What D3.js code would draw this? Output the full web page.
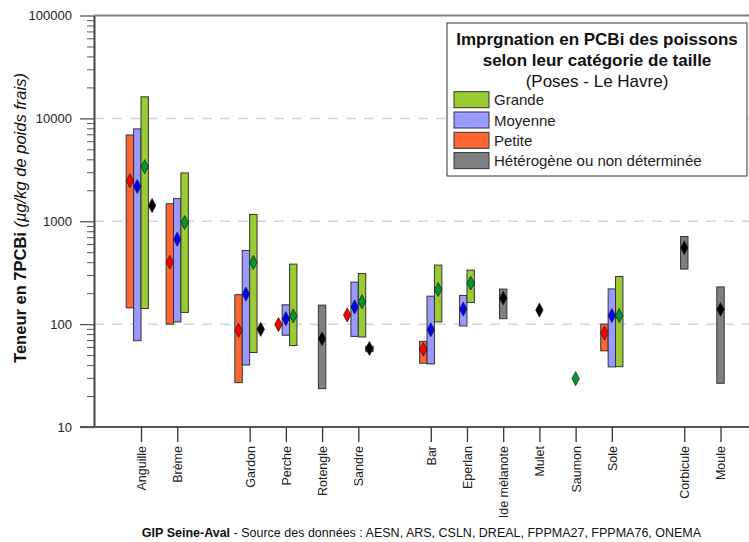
<!DOCTYPE html>
<html><head><meta charset="utf-8">
<script src="https://cdn.jsdelivr.net/npm/d3@7"></script>
<style>
body{margin:0;background:#fff;}
text{font-family:"Liberation Sans",Arial,sans-serif;}
</style></head>
<body><svg id="c" width="749" height="542"></svg>
<script>
// ---------- DATA ----------
const categories = ["Anguille","Brème","Gardon","Perche","Rotengle","Sandre","Bar","Eperlan","Ide mélanote","Mulet","Saumon","Sole","Corbicule","Moule"];
const groupStarts = ["Gardon","Bar","Corbicule"];
const seriesNames = ["Petite","Moyenne","Grande","Hétérogène ou non déterminée"];
// per category: [min, max, median]; null = absent
const petiteMin = [144, 100, 27, null, null, null, 41.7, null, null, null, null, 55, null, null];
const petiteMax = [6900, 1480, 193, null, null, null, 68, null, null, null, null, 100, null, null];
const petiteMed = [2480, 400, 87, 99, null, 123, 57, null, null, null, null, 82, null, null];
const moyenneMin = [69, 105, 40, 78, null, 76, 41, 96, null, null, null, 38.4, null, null];
const moyenneMax = [7900, 1660, 520, 154, null, 256, 187, 190, null, null, null, 220, null, null];
const moyenneMed = [2180, 670, 196, 113, null, 147, 88, 140, null, null, null, 121, null, null];
const grandeMin = [142, 130, 53, 62, null, 75, 105, 162, null, null, null, 38.6, null, null];
const grandeMax = [16200, 2950, 1165, 383, null, 310, 375, 335, null, null, null, 290, null, null];
const grandeMed = [3390, 970, 397, 120, null, 165, 217, 250, null, null, 29.5, 121, null, null];
const heteroMin = [null, null, null, null, 23.6, 54, null, null, 113, null, null, null, 343, 26.6];
const heteroMax = [null, null, null, null, 153, 61, null, null, 219, null, null, null, 711, 230];
const heteroMed = [1420, null, 89, null, 72, 58, null, null, 179, 137, null, null, 552, 139];
const yMajorTicks = [10, 100, 1000, 10000, 100000];
const gridValues = [100, 1000, 10000];

// ---------- STYLE ----------
const barFill = ["#ff6633", "#9999ff", "#99cc33", "#808080"];
const diamondFill = ["#ff0000", "#0000ff", "#009933", "#000000"];

const svg = d3.select("#c");
const L = 94, R = 749, T = 15.5, B = 427;

const y = d3.scaleLog().domain([10, 100000]).range([B, T]);

// x: point scale with one empty slot between groups
const slots = [];
let g = 0;
categories.forEach(c => { if (groupStarts.includes(c)) slots.push("gap" + (g++)); slots.push(c); });
const x = d3.scalePoint().domain(slots).range([141, 720.5]);

const series = [
  {min: petiteMin, max: petiteMax, med: petiteMed},
  {min: moyenneMin, max: moyenneMax, med: moyenneMed},
  {min: grandeMin, max: grandeMax, med: grandeMed},
  {min: heteroMin, max: heteroMax, med: heteroMed}
];

// gridlines
svg.append("g").selectAll("line").data(gridValues).join("line")
  .attr("x1", L).attr("x2", R).attr("y1", d => y(d)).attr("y2", d => y(d))
  .attr("stroke", "#d4d4d4").attr("stroke-width", 1.5).attr("stroke-dasharray", "10,8");

// top frame line
svg.append("line").attr("x1", L).attr("x2", R).attr("y1", T).attr("y2", T)
  .attr("stroke", "#808080").attr("stroke-width", 2);

// build marks
const slotW = 7.4;
const marks = [];
categories.forEach((c, i) => {
  const present = [];
  series.forEach((s, k) => { if (s.med[i] != null) present.push(k); });
  present.forEach((k, j) => {
    const s = series[k];
    marks.push({cat: c, k, off: (j - (present.length - 1) / 2) * slotW,
      min: s.min[i], max: s.max[i], med: s.med[i]});
  });
});

const plot = svg.append("g");
plot.selectAll("rect.bar").data(marks.filter(m => m.min != null)).join("rect")
  .attr("class", "bar")
  .attr("x", m => x(m.cat) + m.off - slotW / 2)
  .attr("width", slotW)
  .attr("y", m => y(m.max))
  .attr("height", m => y(m.min) - y(m.max))
  .attr("fill", m => barFill[m.k])
  .attr("stroke", "#333").attr("stroke-width", 1);

const dw = 3.7, dh = 7;
plot.selectAll("path.dia").data(marks).join("path")
  .attr("class", "dia")
  .attr("transform", m => `translate(${x(m.cat) + m.off},${y(m.med)})`)
  .attr("d", `M0,${-dh}L${dw},0L0,${dh}L${-dw},0Z`)
  .attr("fill", m => diamondFill[m.k])
  .attr("stroke", "#222").attr("stroke-width", 0.8);

// y axis
const yAxis = svg.append("g").attr("transform", `translate(${L},0)`)
  .call(d3.axisLeft(y).tickValues(yMajorTicks).tickFormat(d3.format("d")).tickSize(14).tickSizeOuter(0));
const minor = [];
for (let d = 10; d < 100000; d *= 10) for (let m = 2; m <= 9; m++) minor.push(d * m);
svg.append("g").attr("transform", `translate(${L},0)`)
  .call(d3.axisLeft(y).tickValues(minor).tickFormat("").tickSize(7).tickSizeOuter(0))
  .call(a => a.select(".domain").remove())
  .selectAll("line").attr("stroke", "#555");
yAxis.select(".domain").attr("stroke", "#444").attr("stroke-width", 2);
yAxis.selectAll(".tick line").attr("stroke", "#555").attr("stroke-width", 1.3);
yAxis.selectAll(".tick text").attr("font-size", 13).attr("fill", "#222").attr("x", -22)
  .attr("font-family", "Liberation Sans, Arial, sans-serif");

// x axis
const xAxis = svg.append("g").attr("transform", `translate(0,${B})`)
  .call(d3.axisBottom(x).tickValues(categories).tickSize(15).tickSizeOuter(0));
xAxis.select(".domain").attr("d", `M${L - 14},0H${R}`).attr("stroke", "#555").attr("stroke-width", 2);
xAxis.selectAll(".tick line").attr("stroke", "#333").attr("stroke-width", 1.3);
xAxis.selectAll(".tick text")
  .attr("font-size", 12.5).attr("fill", "#222")
  .attr("font-family", "Liberation Sans, Arial, sans-serif")
  .attr("transform", "rotate(-90)")
  .attr("text-anchor", "end").attr("x", -19).attr("y", 0).attr("dy", "0.35em");

// y label
const yl = svg.append("text").attr("transform", "translate(26,218) rotate(-90)")
  .attr("text-anchor", "middle").attr("font-size", 16.5).attr("fill", "#111");
yl.append("tspan").attr("font-weight", "bold").text("Teneur en 7PCBi ");
yl.append("tspan").attr("font-style", "italic").text("(µg/kg de poids frais)");

// footer
const ft = svg.append("text").attr("x", (L + R) / 2).attr("y", 536.5)
  .attr("text-anchor", "middle").attr("font-size", 12.5).attr("fill", "#111");
ft.append("tspan").attr("font-weight", "bold").text("GIP Seine-Aval");
ft.append("tspan").text(" - Source des données : AESN, ARS, CSLN, DREAL, FPPMA27, FPPMA76, ONEMA");

// legend
const lg = svg.append("g").attr("transform", "translate(447,23)");
lg.append("rect").attr("width", 300).attr("height", 153).attr("fill", "#fff")
  .attr("stroke", "#333").attr("stroke-width", 1);
const titleLines = [["Imprgnation en PCBi des poissons", "bold"], ["selon leur catégorie de taille", "bold"], ["(Poses - Le Havre)", "normal"]];
lg.selectAll("text.tl").data(titleLines).join("text").attr("class", "tl")
  .attr("x", 150).attr("y", (d, i) => 22 + i * 21)
  .attr("text-anchor", "middle").attr("font-size", 17).attr("font-weight", d => d[1])
  .attr("fill", "#111").text(d => d[0]);
const legOrder = [2, 1, 0, 3];
const le = lg.selectAll("g.le").data(legOrder).join("g").attr("class", "le")
  .attr("transform", (d, i) => `translate(7,${68.7 + i * 20.3})`);
le.append("rect").attr("width", 35).attr("height", 16).attr("fill", d => barFill[d])
  .attr("stroke", "#333").attr("stroke-width", 1);
le.append("text").attr("x", 40).attr("y", 13.5).attr("font-size", 15).attr("fill", "#222")
  .text(d => ["Petite", "Moyenne", "Grande", "Hétérogène ou non déterminée"][d]);
</script></body></html>
